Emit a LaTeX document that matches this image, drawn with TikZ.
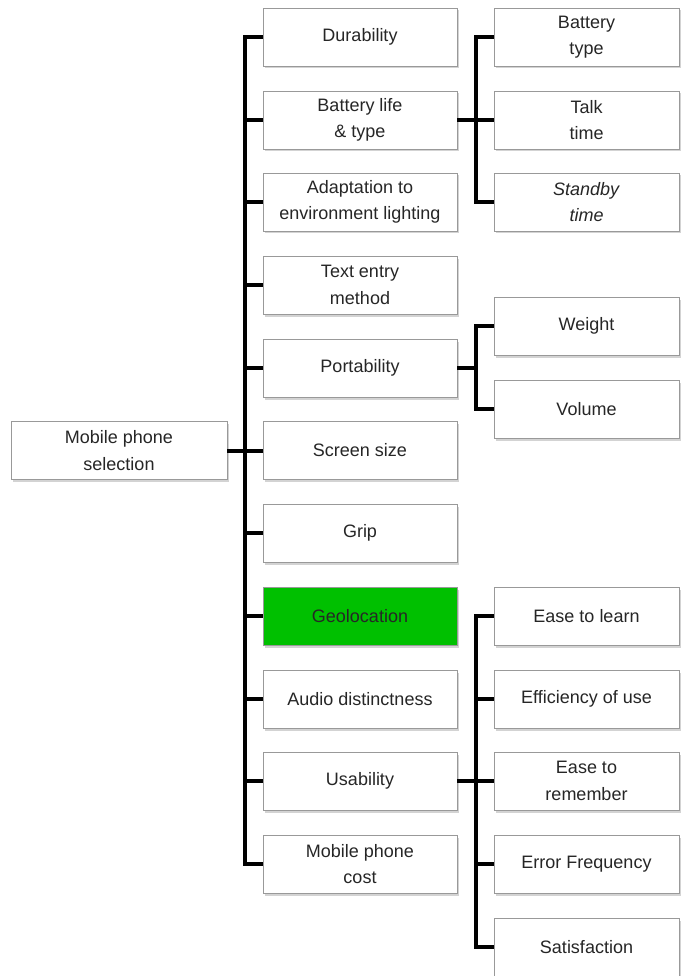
\documentclass[tikz,border=0pt]{standalone}
\usepackage{fontspec}
\setmainfont{Liberation Sans}
\usetikzlibrary{shadows}
\definecolor{geogreen}{RGB}{0,192,0}

\begin{document}
\begin{tikzpicture}[x=1pt,y=-1pt,line join=miter]
\tikzstyle{box}=[rectangle,draw=black!40,fill=white,line width=0.8pt,minimum width=#1,minimum height=58pt,inner sep=0pt,align=center,font=\fontsize{18}{26.5}\selectfont,text=black!85,drop shadow={opacity=0.35,shadow xshift=2pt,shadow yshift=-2.5pt}]
\tikzstyle{link}=[line width=4pt,black]
\useasboundingbox (0,0) rectangle (680,976);

\node[box=216pt](root) at (119,450.5) {Mobile phone\\selection};

\node[box=194pt](dur) at (360,37) {Durability};
\node[box=194pt](batt) at (360,120) {Battery life\\\& type};
\node[box=194pt](adapt) at (360,202) {Adaptation to\\environment lighting};
\node[box=194pt](entry) at (360,285) {Text entry\\method};
\node[box=194pt](port) at (360,368) {Portability};
\node[box=194pt](screen) at (360,450.5) {Screen size};
\node[box=194pt](grip) at (360,533) {Grip};
\node[box=194pt,fill=geogreen](geo) at (360,616) {Geolocation};
\node[box=194pt](audio) at (360,699) {Audio distinctness};
\node[box=194pt](usab) at (360,781) {Usability};
\node[box=194pt](cost) at (360,864) {Mobile phone\\cost};

\node[box=185pt](btype) at (586.5,37) {Battery\\type};
\node[box=185pt](talk) at (586.5,120) {Talk\\time};
\node[box=185pt](stand) at (586.5,202) {\textit{Standby}\\\textit{time}};
\node[box=185pt](weight) at (586.5,326) {Weight};
\node[box=185pt](vol) at (586.5,409) {Volume};
\node[box=185pt](learn) at (586.5,616) {Ease to learn};
\node[box=185pt](effic) at (586.5,699) {Efficiency of use};
\node[box=185pt](remember) at (586.5,781) {Ease to\\remember};
\node[box=185pt](error) at (586.5,864) {Error Frequency};
\node[box=185pt](satis) at (586.5,947) {Satisfaction};

\coordinate (trunk) at (245,450.5);
\coordinate (battj) at (476,120);
\coordinate (portj) at (476,368);
\coordinate (usabj) at (476,781);

\draw[link] (root) -- (screen);
\draw[link] (dur.west) -| (trunk) |- (cost.west);
\foreach \n in {batt,adapt,entry,port,grip,geo,audio,usab}
  \draw[link] (\n.west) -| (trunk);

\draw[link] (btype.west) -| (battj) |- (stand.west);
\draw[link] (batt) -- (talk);

\draw[link] (weight.west) -| (portj) |- (vol.west);
\draw[link] (port) -- (portj);

\draw[link] (learn.west) -| (usabj) |- (satis.west);
\draw[link] (usab) -- (remember);
\foreach \n in {effic,error}
  \draw[link] (\n.west) -| (usabj);
\end{tikzpicture}
\end{document}
